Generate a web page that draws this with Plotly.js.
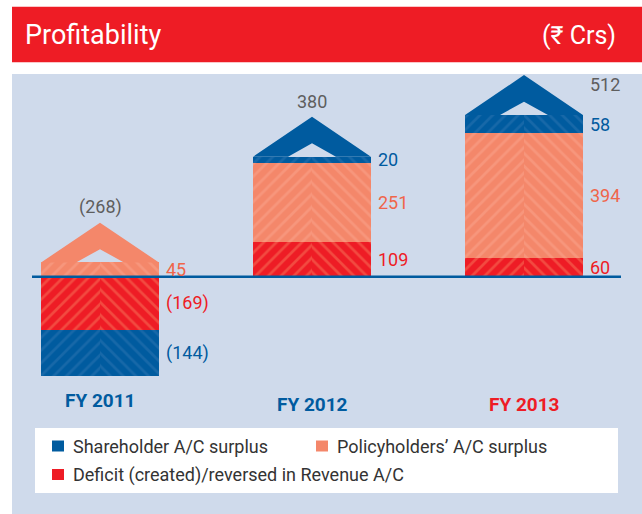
<!DOCTYPE html>
<html>
<head>
<meta charset="utf-8">
<script src="https://cdn.plot.ly/plotly-3.0.1.min.js"></script>
<style>
body { margin: 0; background: #fff; }
#chart { width: 642px; height: 514px; }
</style>
</head>
<body>
<div id="chart"></div>
<script>
// values in Rs crore
const years = ['FY 2011', 'FY 2012', 'FY 2013'];
const seriesNames = ['Deficit (created)/reversed in Revenue A/C', 'Policyholders\u2019 A/C surplus', 'Shareholder A/C surplus'];
const deficit = [-169, 109, 60];
const policyholders = [45, 251, 394];
const shareholder = [-144, 20, 58];
const totals = [-268, 380, 512];

const seriesVals = [deficit, policyholders, shareholder];
const fillCol = ['#ee1c25', '#f4876a', '#005b9f'];
const stripeCol = ['#f6785c', '#f9a68e', '#2d76b2'];
const textCol = ['#ee1c25', '#f0654a', '#005b9f'];
const yearCol = ['#005b9f', '#005b9f', '#ee1c25'];
const font = 'Roboto, "Noto Sans", sans-serif';

// page pixels -> paper coords (plot area is x 12..642, y 74..514)
function px(p) { return (p - 12) / 630; }
function py(p) { return (514 - p) / 440; }

const xIdx = years.map((y, i) => i);
const hw = 0.278;          // half bar width, axis units
const roofH = 126, roofIn = 42, roofInW = 0.113;

// stack like barmode relative
let pos = years.map(() => 0), neg = years.map(() => 0);
const bases = seriesVals.map(vals => vals.map((v, i) => {
    let b;
    if (v >= 0) { b = pos[i]; pos[i] += v; }
    else { b = neg[i]; neg[i] += v; }
    return b;
}));

let traces = [];
// each bar is two halves so the stripes make a chevron
seriesVals.forEach((vals, s) => {
    [-1, 1].forEach(side => {
        traces.push({
            type: 'bar',
            x: xIdx,
            y: vals,
            base: bases[s],
            width: hw,
            offset: side < 0 ? -hw : 0,
            marker: {
                color: fillCol[s],
                line: {width: 0},
                pattern: {shape: side < 0 ? '/' : '\\', size: 9, solidity: 0.3, fgcolor: stripeCol[s], fillmode: 'overlay'}
            },
            showlegend: false,
            hoverinfo: 'skip'
        });
    });
});

// roofs on top of each bar, coloured like the top segment
xIdx.forEach(i => {
    let top = pos[i];
    let topSeries = 0;
    seriesVals.forEach((vals, s) => { if (vals[i] > 0) topSeries = s; });
    traces.push({
        type: 'scatter',
        mode: 'lines',
        x: [i - hw, i, i + hw, i + roofInW, i, i - roofInW, i - hw],
        y: [top, top + roofH, top, top, top + roofIn, top, top],
        fill: 'toself',
        fillcolor: fillCol[topSeries],
        line: {width: 0},
        showlegend: false,
        hoverinfo: 'skip'
    });
});

function fmt(v) { return v < 0 ? '(' + (-v) + ')' : String(v); }

let annotations = [];
// segment labels
seriesVals.forEach((vals, s) => {
    vals.forEach((v, i) => {
        annotations.push({
            x: i + hw, y: bases[s][i] + v / 2, xref: 'x', yref: 'y',
            text: fmt(v), showarrow: false, xanchor: 'left', yanchor: 'middle', xshift: 5,
            font: {family: font, size: 18, color: textCol[s]}
        });
    });
});
// totals above the roofs
totals.forEach((t, i) => {
    let last = i === totals.length - 1;
    annotations.push({
        x: last ? i + hw : i, y: pos[i] + roofH, xref: 'x', yref: 'y',
        text: fmt(t), showarrow: false,
        xanchor: last ? 'left' : 'center', yanchor: last ? 'middle' : 'bottom',
        xshift: last ? 5 : 0, yshift: last ? -9 : 3,
        font: {family: font, size: 18, color: '#5e5e5e'}
    });
});
// year labels
years.forEach((y, i) => {
    annotations.push({
        x: i, y: py(i === 0 ? 400 : 404), xref: 'x', yref: 'paper',
        text: '<b>' + y + '</b>', showarrow: false, yanchor: 'middle',
        font: {family: font, size: 19, color: yearCol[i]}
    });
});
// header
annotations.push({
    x: px(23), y: py(35), xref: 'paper', yref: 'paper', text: 'Profitability',
    showarrow: false, xanchor: 'left', yanchor: 'middle',
    font: {family: font, size: 27, color: '#ffffff'}
});
annotations.push({
    x: px(618), y: py(36), xref: 'paper', yref: 'paper', text: '(\u20b9 Crs)',
    showarrow: false, xanchor: 'right', yanchor: 'middle',
    font: {family: font, size: 25, color: '#ffffff'}
});

let shapes = [
    {type: 'rect', xref: 'paper', yref: 'paper', x0: 0, x1: 1, y0: py(62.3), y1: py(6.7),
     fillcolor: '#ee1c25', line: {width: 0}},
    {type: 'line', xref: 'paper', yref: 'y', x0: px(32), x1: px(621), y0: 0, y1: 0,
     line: {color: '#005b9f', width: 2.5}, layer: 'above'},
    {type: 'rect', xref: 'paper', yref: 'paper', x0: px(35), x1: px(618), y0: py(493), y1: py(428),
     fillcolor: '#ffffff', line: {width: 0}}
];

// legend drawn by hand: shareholder, policyholders on row 1, deficit on row 2
const legendOrder = [2, 1, 0];
const legendPos = [[52, 446], [316, 446], [52, 474.5]];
legendOrder.forEach((s, k) => {
    let lx = legendPos[k][0], ly = legendPos[k][1];
    shapes.push({type: 'rect', xref: 'paper', yref: 'paper', x0: px(lx), x1: px(lx + 12), y0: py(ly + 5.5), y1: py(ly - 5.5),
        fillcolor: fillCol[s], line: {width: 0}});
    annotations.push({
        x: px(lx + 19), y: py(ly), xref: 'paper', yref: 'paper', text: seriesNames[s],
        showarrow: false, xanchor: 'left', yanchor: 'middle',
        font: {family: font, size: 18, color: '#333333'}
    });
});

const layout = {
    width: 642,
    height: 514,
    margin: {l: 12, r: 0, t: 74, b: 0},
    paper_bgcolor: '#ffffff',
    plot_bgcolor: '#cfdaeb',
    barmode: 'overlay',
    bargap: 0,
    xaxis: {range: [-0.4151, 2.5566], visible: false, fixedrange: true},
    yaxis: {range: [-751, 641.5], visible: false, fixedrange: true, zeroline: false},
    showlegend: false,
    shapes: shapes,
    annotations: annotations
};

Plotly.newPlot('chart', traces, layout, {displayModeBar: false, staticPlot: true});
</script>
</body>
</html>
